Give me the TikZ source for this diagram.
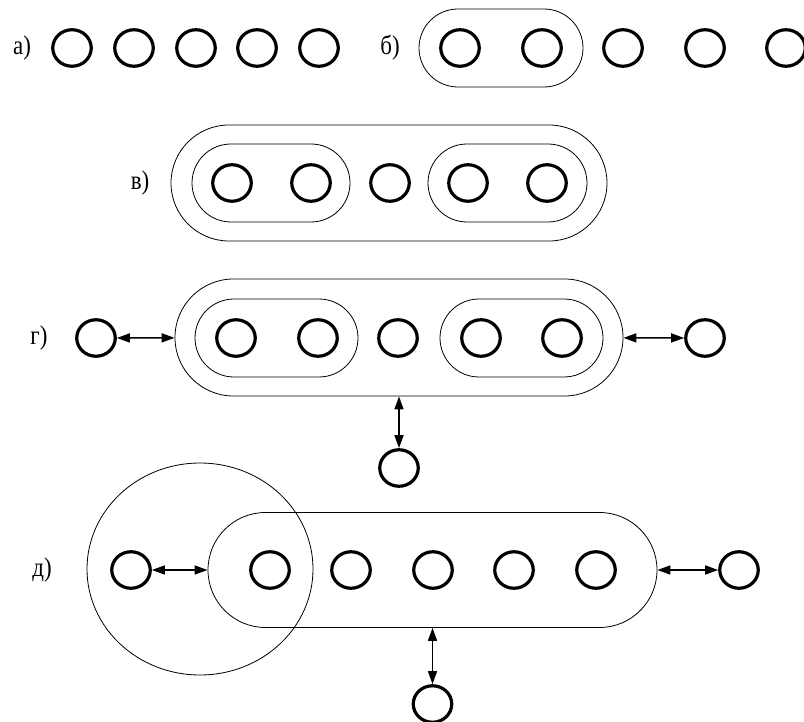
\documentclass[tikz,border=0pt]{standalone}
\usepackage{fontspec}
\setmainfont{Liberation Serif}
\usetikzlibrary{arrows.meta,shapes.geometric}

\tikzset{
  ring/.style={draw, ellipse, line width=3.2pt, minimum width=38.5pt, minimum height=36.5pt, inner sep=0pt},
  grp/.style n args={3}{draw, line width=0.8pt, inner sep=0pt, minimum width=#1pt, minimum height=#2pt, rounded corners=#3pt},
  tag/.style={font=\fontsize{27}{32}\selectfont, inner sep=0pt, xscale=0.85},
  link/.style={line width=1.6pt, {Triangle[length=13pt,width=9pt]}-{Triangle[length=13pt,width=9pt]}},
}

\begin{document}
\begin{tikzpicture}[x=1pt, y=-1pt]
	\useasboundingbox (0,0) rectangle (804,722);
	% Row a
	\node[tag] (la) at (22,48) {а)};
	\foreach \x [count=\i] in {72,134,196,257,319} \node[ring] (a\i) at (\x,48) {};
	% Row b
	\node[tag] (lb) at (390,48) {б)};
	\node[grp={164}{78}{39}] (b12) at (501,48) {};
	\foreach \x [count=\i] in {460,542,623,705,786} \node[ring] (b\i) at (\x,48) {};
	% Row v
	\node[tag] (lv) at (140,183) {в)};
	\node[grp={436}{116}{58}] (vout) at (389,183) {};
	\node[grp={158}{78}{39}] (vl) at (271,183) {};
	\node[grp={159}{78}{39}] (vr) at (507.5,183) {};
	\foreach \x [count=\i] in {232,311,390,468,547} \node[ring] (v\i) at (\x,183) {};
	% Row g
	\node[tag] (lg) at (39,338) {г)};
	\node[grp={448}{117}{58.5}] (gout) at (399,337.5) {};
	\node[grp={163}{78}{39}] (gl) at (276.5,338) {};
	\node[grp={163}{78}{39}] (gr) at (521.5,338) {};
	\foreach \x [count=\i] in {236,318,398,481,562} \node[ring] (g\i) at (\x,338) {};
	\node[ring] (gw) at (96,338) {};
	\node[ring] (ge) at (705,338) {};
	\node[ring] (gs) at (399,468) {};
	\draw[link] (gw) -- (gout);
	\draw[link] (gout) -- (ge);
	\draw[link] (gout) -- (gs);
	% Row d
	\node[tag] (ld) at (42,570) {д)};
	\node[draw, ellipse, line width=0.8pt, minimum width=226pt, minimum height=212pt] (dbig) at (200,569) {};
	\node[grp={449}{115}{57.5}] (dout) at (432.5,570) {};
	\foreach \x [count=\i] in {270,351,433,514,596} \node[ring] (d\i) at (\x,570) {};
	\node[ring] (dw) at (131,570) {};
	\node[ring] (de) at (739,570) {};
	\node[ring] (ds) at (432.5,704) {};
	\draw[link] (dw) -- (dout);
	\draw[link] (dout) -- (de);
	\draw[link] (dout) -- (ds);
\end{tikzpicture}
\end{document}
